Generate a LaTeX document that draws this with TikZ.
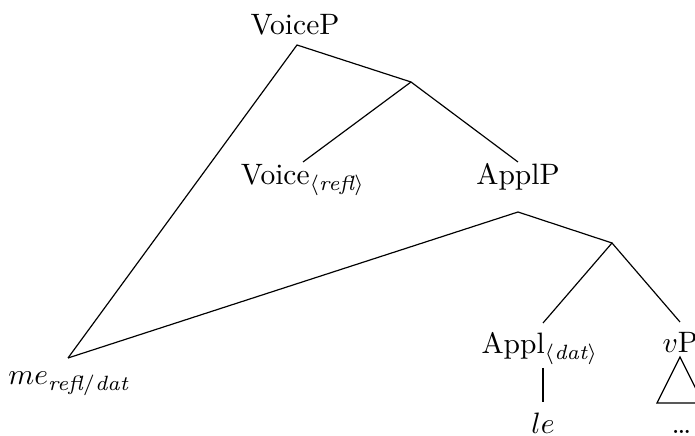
\documentclass[tikz,border=0pt]{standalone}
\usepackage{amsmath}
\begin{document}
\begin{tikzpicture}[x=0.339pt,y=-0.339pt,
  lbl/.style={inner sep=0pt, anchor=base},
  edge/.style={line width=0.4pt}]
\useasboundingbox (0,0) rectangle (695,436);
% labels
\node[lbl] (VoiceP) at (295,35) {VoiceP};
\node[lbl] (Voice) at (303,185) {Voice$_{\langle\textit{refl}\rangle}$};
\node[lbl] (ApplP) at (518,185) {ApplP};
\node[lbl] (me) at (69,385) {$me_{\textit{refl}/\textit{dat}}$};
\node[lbl] (Appl) at (540,354) {Appl$_{\langle\textit{dat}\rangle}$};
\node[lbl, anchor=base west] (vP) at (662,353) {$v$P};
\node[lbl] (le) at (543,434) {$le$};
\node[lbl, anchor=base west] (dots) at (671,434) {\dots};
% branch points and line ends
\coordinate (voicePtop) at (297,45);
\coordinate (voicebar) at (411,82);
\coordinate (voiceEnd) at (303,162);
\coordinate (applPEnd) at (518,162);
\coordinate (applPtop) at (518,212);
\coordinate (applbar) at (612,243);
\coordinate (meEnd) at (68,358);
\coordinate (applEnd) at (543,323);
\coordinate (vPEnd) at (680,322);
\coordinate (applLow) at (543,368);
\coordinate (leTop) at (543,402);
\coordinate (triTop) at (680,357);
\coordinate (triL) at (657,403);
\coordinate (triR) at (703,403);
% edges
\draw[edge] (meEnd) -- (voicePtop) -- (voicebar);
\draw[edge] (voiceEnd) -- (voicebar) -- (applPEnd);
\draw[edge] (meEnd) -- (applPtop) -- (applbar);
\draw[edge] (applEnd) -- (applbar) -- (vPEnd);
\draw[edge] (applLow) -- (leTop);
\draw[edge] (triTop) -- (triL) -- (triR) -- cycle;
\end{tikzpicture}
\end{document}
